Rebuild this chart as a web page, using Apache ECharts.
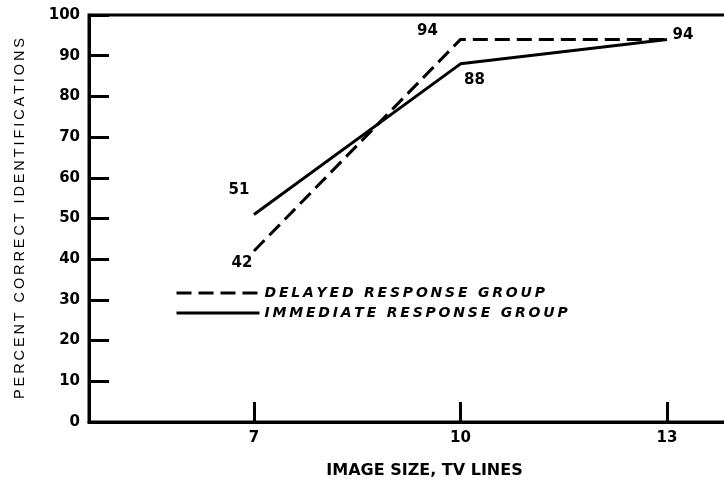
<!DOCTYPE html>
<html lang="en">
<head>
    <meta charset="UTF-8">
    <title>image size chart</title>
    <script src="https://cdn.jsdelivr.net/npm/echarts@6/dist/echarts.min.js"></script>
</head>
<body style="margin:0;background:#fff;">
<div id="chart" style="width:724px;height:487px;"></div>
<script type="text/javascript">
    // data
    const xTicks = [7, 10, 13];
    const delayed = [42, 94, 94];
    const immediate = [51, 88, 94];
    // where each value label sits relative to its point (px)
    const delayedOff = [[-12, 12], [-33, -8], [16, -4]];
    const immediateOff = [[-15, -24], [14, 16], null];

    const font = 'DejaVu Sans';
    let myChart = echarts.init(document.getElementById('chart'));

    // the scanned lettering is spaced out, so pad letters with thin spaces
    function spaced(s) {
        return s.split('').join('\u2009');
    }

    function labelPoints(vals, offs) {
        let out = [];
        vals.forEach(function (v, i) {
            if (!offs[i]) return;
            out.push({
                value: [xTicks[i], v],
                label: {offset: offs[i]}
            });
        });
        return out;
    }

    function linePoints(vals) {
        return vals.map(function (v, i) {
            return [xTicks[i], v];
        });
    }

    let labelStyle = {
        show: true,
        position: 'inside',
        align: 'center',
        verticalAlign: 'middle',
        formatter: function (p) { return String(p.value[1]); },
        color: '#000',
        opacity: 1,
        textBorderWidth: 0,
        fontFamily: font,
        fontWeight: 'bold',
        fontSize: 15
    };

    let option = {
        animation: false,
        grid: {
            left: 89, top: 15, right: -6, bottom: 65,
            outerBoundsMode: 'none',
            show: true, borderColor: '#000', borderWidth: 3
        },
        legend: {
            orient: 'vertical',
            left: 175, top: 286,
            padding: 0,
            itemWidth: 83, itemHeight: 14, itemGap: 6,
            itemStyle: {opacity: 0},
            lineStyle: {width: 3},
            textStyle: {
                fontFamily: font, fontSize: 14, fontWeight: 'bold',
                fontStyle: 'italic', color: '#000'
            },
            formatter: function (name) { return spaced(name); },
            data: ['DELAYED RESPONSE GROUP', 'IMMEDIATE RESPONSE GROUP']
        },
        xAxis: {
            type: 'value',
            min: 4.603, max: 13.915,
            name: 'IMAGE SIZE, TV LINES',
            nameLocation: 'middle',
            nameGap: 41,
            nameTextStyle: {fontFamily: font, fontSize: 16, fontWeight: 'bold', color: '#000',
                padding: [0, 0, 0, 30]},
            splitLine: {show: false},
            axisLine: {lineStyle: {color: '#000', width: 3}},
            axisTick: {show: true, inside: true, length: 20, customValues: xTicks,
                lineStyle: {color: '#000', width: 3}},
            axisLabel: {customValues: xTicks, margin: 9, color: '#000',
                fontFamily: font, fontWeight: 'bold', fontSize: 15}
        },
        yAxis: {
            type: 'value',
            min: 0, max: 100, interval: 10,
            name: spaced('PERCENT CORRECT IDENTIFICATIONS'),
            nameLocation: 'middle',
            nameGap: 62,
            nameTextStyle: {fontFamily: 'Liberation Sans', fontSize: 14.5, color: '#000'},
            splitLine: {show: false},
            axisLine: {show: true, lineStyle: {color: '#000', width: 3}},
            axisTick: {show: true, inside: true, length: 20, lineStyle: {color: '#000', width: 3}},
            axisLabel: {margin: 9, color: '#000', fontFamily: font, fontWeight: 'bold', fontSize: 15}
        },
        series: [
            {
                name: 'DELAYED RESPONSE GROUP',
                type: 'line',
                symbol: 'none',
                lineStyle: {color: '#000', width: 3, type: [15, 7]},
                itemStyle: {color: '#000'},
                data: linePoints(delayed)
            },
            {
                name: 'IMMEDIATE RESPONSE GROUP',
                type: 'line',
                symbol: 'none',
                lineStyle: {color: '#000', width: 3},
                itemStyle: {color: '#000'},
                data: linePoints(immediate)
            },
            {
                type: 'scatter',
                symbolSize: 0,
                silent: true,
                itemStyle: {color: '#000', opacity: 1},
                label: labelStyle,
                data: labelPoints(delayed, delayedOff).concat(labelPoints(immediate, immediateOff))
            }
        ]
    };

    myChart.setOption(option);
</script>
</body>
</html>
